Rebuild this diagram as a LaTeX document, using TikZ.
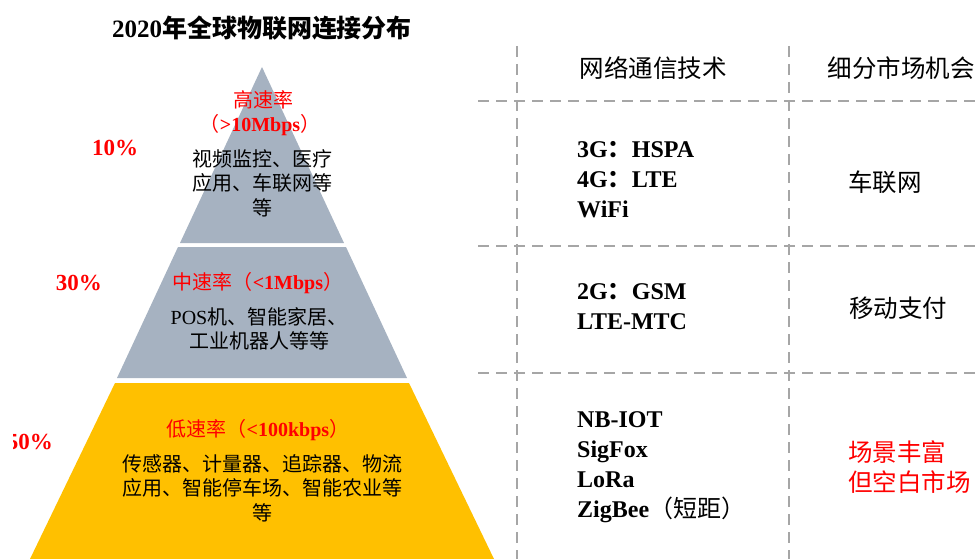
\documentclass[tikz,border=0pt]{standalone}
\usepackage{fontspec}
\setmainfont{Liberation Serif}
\newfontfamily\cjk{Noto Sans CJK SC}
\newcommand\zh[1]{{\cjk #1}}
\definecolor{pgray}{HTML}{A6B2C1}
\definecolor{pyellow}{HTML}{FFC000}
\definecolor{gridgray}{HTML}{A6A6A6}
\definecolor{myred}{HTML}{FF0000}
\begin{document}
\begin{tikzpicture}[x=1pt,y=-1pt,
  txt/.style={inner sep=0pt, align=center, font=\fontsize{20}{24.5}\selectfont},
  redtxt/.style={txt, text=myred},
  pct/.style={inner sep=0pt, text=myred, font=\fontsize{23}{27}\selectfont\bfseries},
  tech/.style={inner sep=0pt, anchor=west, align=left, font=\fontsize{24}{30}\selectfont\bfseries},
  head/.style={inner sep=0pt, font=\fontsize{24.5}{30}\selectfont},
  gridline/.style={draw=gridgray, line width=2.5pt, dash pattern=on 11pt off 7pt}
]
\useasboundingbox (0,0) rectangle (978,559);
% pyramid
\fill[pgray] (262,67) -- (344,243) -- (180,243) -- cycle;
\fill[pgray] (178,247) -- (346,247) -- (407,378) -- (117,378) -- cycle;
\fill[pyellow] (115,383) -- (409,383) -- (494,559) -- (30,559) -- cycle;
% title
\node[inner sep=0pt, font=\fontsize{25}{30}\selectfont\bfseries] (title) at (262,28) {2020\zh{年全球物联网连接分布}};
% top level
\node[redtxt] (h1) at (263,100) {\zh{高速率}};
\node[redtxt] (h2) at (260,125) {\zh{（}{\bfseries >10Mbps}\zh{）}};
\node[txt] (h3) at (262,183) {\zh{视频监控、医疗}\\\zh{应用、车联网等}\\\zh{等}};
% middle level
\node[redtxt] (m1) at (258,283) {\zh{中速率（}{\bfseries <1Mbps}\zh{）}};
\node[txt] (m2) at (259,329) {POS\zh{机、智能家居、}\\\zh{工业机器人等等}};
% low level
\node[redtxt] (l1) at (258,430) {\zh{低速率（}{\bfseries <100kbps}\zh{）}};
\node[txt] (l2) at (262,488) {\zh{传感器、计量器、追踪器、物流}\\\zh{应用、智能停车场、智能农业等}\\\zh{等}};
% percentages
\node[pct] (p10) at (115,148) {10\%};
\node[pct] (p30) at (79,283) {30\%};
\begin{scope}
\clip (13,400) rectangle (120,480);
\node[pct, anchor=east] (p50) at (53,442) {50\%};
\end{scope}
% grid
\draw[gridline] (517,46) -- (517,559);
\draw[gridline] (789,46) -- (789,559);
\draw[gridline] (478,101) -- (978,101);
\draw[gridline] (478,246) -- (978,246);
\draw[gridline] (478,373) -- (978,373);
% headers
\node[head] (hd1) at (653,68) {\zh{网络通信技术}};
\node[head] (hd2) at (901,68) {\zh{细分市场机会}};
% rows
\node[tech] (t1) at (577,180) {3G\zh{：}HSPA\\4G\zh{：}LTE\\WiFi};
\node[head] (o1) at (885,182) {\zh{车联网}};
\node[tech] (t2) at (577,307) {2G\zh{：}GSM\\LTE-MTC};
\node[head] (o2) at (898,308) {\zh{移动支付}};
\node[tech] (t3) at (577,467) {NB-IOT\\SigFox\\LoRa\\ZigBee{\mdseries\zh{（短距）}}};
\node[head, anchor=west, align=left, text=myred] (o3) at (848,467) {\zh{场景丰富}\\\zh{但空白市场}};
\end{tikzpicture}
\end{document}
